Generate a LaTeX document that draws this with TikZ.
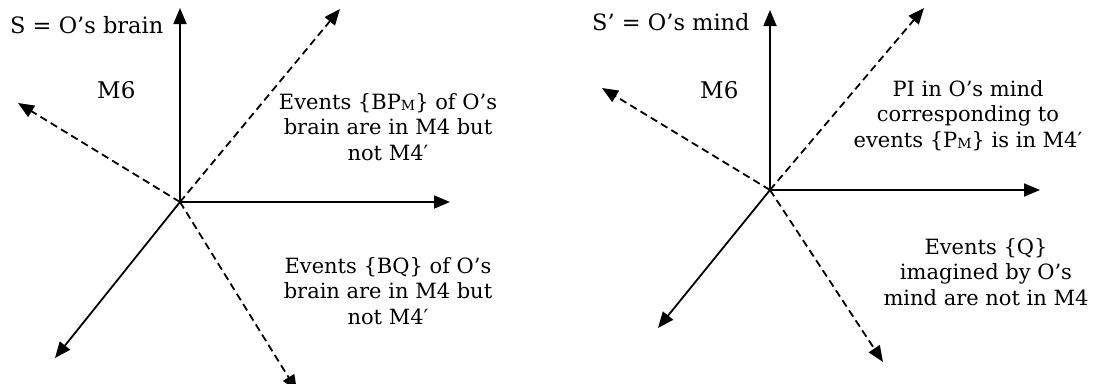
\documentclass[tikz,border=0pt]{standalone}
\usepackage{fontspec}
\setmainfont{DejaVu Serif}
\usetikzlibrary{arrows.meta}
\tikzset{
  axis/.style={line width=1.8pt, -{Triangle[length=16pt,width=13pt]}},
  dashaxis/.style={axis, dash pattern=on 7.5pt off 4.5pt},
  title/.style={anchor=base west, inner sep=0pt, font=\fontsize{22.5}{27}\selectfont},
  mlabel/.style={anchor=base west, inner sep=0pt, font=\fontsize{23}{27}\selectfont},
  note/.style={anchor=base, inner sep=0pt, align=center, font=\fontsize{21}{25.5}\selectfont},
}
% small subscript M
\newcommand\subM{\raisebox{-1.5pt}{\fontsize{14}{14}\selectfont M}}
\begin{document}
\begin{tikzpicture}[x=1pt,y=-1pt]
\useasboundingbox (0,0) rectangle (1095,383);

% ---- brain frame ----
\coordinate (o1) at (180,202);
\coordinate (l-up) at (180,8);
\coordinate (l-right) at (450,202);
\coordinate (l-ne) at (340,9);
\coordinate (l-nw) at (18,103);
\coordinate (l-sw) at (55,358);
\coordinate (l-se) at (297,391);
\draw[axis] (o1) -- (l-up);
\draw[axis] (o1) -- (l-right);
\draw[axis] (o1) -- (l-sw);
\draw[dashaxis] (o1) -- (l-ne);
\draw[dashaxis] (o1) -- (l-nw);
\draw[dashaxis] (o1) -- (l-se);

\node[title] (brain) at (10,33) {S = O’s brain};
\node[mlabel] (m6a) at (97,98) {M6};
% multi-line notes are placed by the baseline of their last line
\node[note] (bpm) at (388,160) {Events \{BP\subM\} of O’s\\brain are in M4 but\\not M4′};
\node[note] (bq) at (388,324) {Events \{BQ\} of O’s\\brain are in M4 but\\not M4′};

% ---- mind frame ----
\coordinate (o2) at (770,190);
\coordinate (r-up) at (770,10);
\coordinate (r-right) at (1040,190);
\coordinate (r-ne) at (924,8);
\coordinate (r-nw) at (602,88);
\coordinate (r-sw) at (658,328);
\coordinate (r-se) at (883,362);
\draw[axis] (o2) -- (r-up);
\draw[axis] (o2) -- (r-right);
\draw[axis] (o2) -- (r-sw);
\draw[dashaxis] (o2) -- (r-ne);
\draw[dashaxis] (o2) -- (r-nw);
\draw[dashaxis] (o2) -- (r-se);

\node[title] (mind) at (592,30) {S’ = O’s mind};
\node[mlabel] (m6b) at (700,98) {M6};
\node[note] (pi) at (968,147) {PI in O’s mind\\corresponding to\\events \{P\subM\} is in M4′};
\node[note] (q) at (986,305) {Events \{Q\}\\imagined by O’s\\mind are not in M4};
\end{tikzpicture}
\end{document}
